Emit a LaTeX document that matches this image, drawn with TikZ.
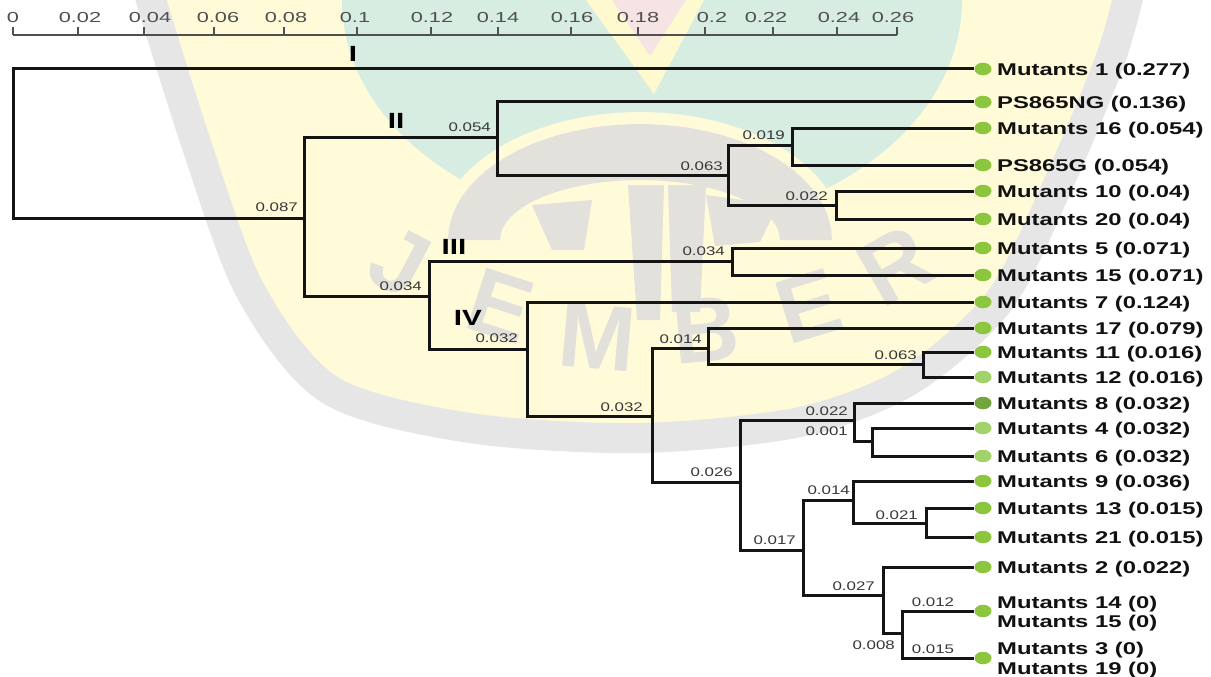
\documentclass[tikz,border=0pt]{standalone}
\usepackage{fontspec}
\setmainfont{Liberation Sans}
\newfontfamily\leaffont[FakeStretch=1.4]{Liberation Sans}
\newfontfamily\brfont[FakeStretch=1.35]{Liberation Sans}
\newfontfamily\axfont[FakeStretch=1.5]{Liberation Sans}
\newfontfamily\romfont[FakeStretch=1.35]{Liberation Sans}
\usetikzlibrary{shapes.geometric}

\definecolor{treeink}{HTML}{141414}
\definecolor{leafink}{HTML}{111111}
\definecolor{brgray}{HTML}{383838}
\definecolor{axgray}{HTML}{505050}
\definecolor{dotgreen}{HTML}{8CC63F}
\definecolor{dotlight}{HTML}{A2D26A}
\definecolor{dotdark}{HTML}{72A63C}
\definecolor{wmyellow}{HTML}{FFFBD9}
\definecolor{wmvee}{HTML}{FFF9D0}
\definecolor{wmteal}{HTML}{D8EDE2}
\definecolor{wmgray}{HTML}{E2E1DC}
\definecolor{wmring}{HTML}{E6E6E6}
\definecolor{wmpink}{HTML}{F6E3E3}
\definecolor{wmletter}{HTML}{E1E0DB}

\begin{document}
\begin{tikzpicture}[x=1pt,y=-1pt,
  branch/.style={draw=treeink, line width=3pt},
  leafdot/.style={ellipse, fill=#1, draw=none, minimum width=17pt, minimum height=12.5pt, inner sep=0pt},
  leafdot/.default=dotgreen,
  leaflabel/.style={anchor=base west, inner sep=0pt, text=leafink,
    font=\leaffont\bfseries\fontsize{17}{19}\selectfont},
  brlabel/.style={anchor=east, inner sep=0pt, text=brgray,
    font=\brfont\fontsize{12.5}{14}\selectfont},
  axlabel/.style={anchor=base, inner sep=0pt, text=axgray,
    font=\axfont\fontsize{14.5}{16}\selectfont},
  romlabel/.style={inner sep=0pt, text=black,
    font=\romfont\bfseries\fontsize{22}{24}\selectfont},
  wmglyph/.style={inner sep=0pt, text=wmletter,
    font=\bfseries\fontsize{92}{100}\selectfont},
  axisline/.style={draw=axgray, line width=1.5pt}]

\useasboundingbox (0,0) rectangle (1211,677);
\fill[white] (0,0) rectangle (1211,677);

% ---------- faded emblem in the background ----------
\begin{scope}
  \clip (0,0) rectangle (1211,677);
  \fill[wmyellow] plot[smooth] coordinates {(148,-10) (195,140) (250,290) (330,390)
      (470,428) (640,438) (800,422) (910,380) (1000,300) (1060,180) (1110,60) (1130,-10)} -- cycle;
  \fill[wmteal] (652,0) ellipse [x radius=310pt, y radius=228pt];
  \fill[wmvee] (586,0) -- (704,0) -- (654,94) -- cycle;
  \fill[wmpink] (612,0) -- (686,0) -- (650,56) -- cycle;
  % arch with rays
  \fill[wmyellow] plot[domain=0:180, samples=40] ({640+204*cos(\x)},{240-128*sin(\x)}) -- cycle;
  \fill[wmgray] plot[domain=0:180, samples=40] ({640+192*cos(\x)},{240-116*sin(\x)})
      -- plot[domain=180:0, samples=40] ({640+140*cos(\x)},{240-60*sin(\x)}) -- cycle;
  \fill[wmgray] (532,205) -- (592,200) -- (584,250) -- (552,250) -- cycle;
  \fill[wmgray] (628,185) -- (664,185) -- (660,320) -- (637,320) -- cycle;
  \fill[wmgray] (668,185) -- (706,185) -- (700,312) -- (672,312) -- cycle;
  \fill[wmgray] (706,195) -- (778,205) -- (760,242) -- (715,246) -- cycle;
  % lettering along the lower arc
  \node[wmglyph, rotate=-28] (wmJ)  at (400,262) {J};
  \node[wmglyph, rotate=-18] (wmE1) at (500,306) {E};
  \node[wmglyph, rotate=-5]  (wmM)  at (597,337) {M};
  \node[wmglyph, rotate=5]   (wmB)  at (706,330) {B};
  \node[wmglyph, rotate=17]  (wmE2) at (809,306) {E};
  \node[wmglyph, rotate=30]  (wmR)  at (895,265) {R};
  % outer ring
  \draw[wmring, line width=30pt] plot[smooth] coordinates {(148,-10) (195,140) (250,290) (330,390)
      (470,428) (640,438) (800,422) (910,380) (1000,300) (1060,180) (1110,60) (1130,-10)};
\end{scope}

% ---------- distance scale ----------
\coordinate (ax0) at (13,35);
\coordinate (ax1) at (897,35);
\draw[axisline] (ax0) -- (ax1);
\foreach \tx in {13,78,144,214,284,357,431,498,571,638,705,773,837,897}
  \draw[axisline] (\tx,35) -- (\tx,27.5);
\foreach \lx/\v in {13/0, 80/0.02, 150/0.04, 218/0.06, 286/0.08, 355/0.1, 432/0.12,
    498/0.14, 572/0.16, 638/0.18, 712/0.2, 766/0.22, 839/0.24, 893/0.26}
  \node[axlabel] at (\lx,22.7) {\v};

% ---------- internal nodes ----------
\coordinate (R)  at (13,143);
\coordinate (nA) at (304,218);
\coordinate (nB) at (497,137);
\coordinate (nC) at (728,175);
\coordinate (nD) at (792,145);
\coordinate (nE) at (836,205);
\coordinate (nF) at (429,296);
\coordinate (nG) at (732,261);
\coordinate (nH) at (527,349);
\coordinate (nK) at (652,416);
\coordinate (nL) at (708,348);
\coordinate (nN) at (923,364);
\coordinate (nP) at (740,482);
\coordinate (nQ) at (854,420);
\coordinate (nS) at (872,441);
\coordinate (nT) at (803,550);
\coordinate (nU) at (853,500);
\coordinate (nV) at (926,523);
\coordinate (nW) at (883,595);
\coordinate (nX) at (902,633);

% ---------- leaves ----------
\node[leafdot] (m1)    at (983,69)  {};
\node[leafdot] (ng)    at (983,102) {};
\node[leafdot] (m16)   at (983,128) {};
\node[leafdot] (g)     at (983,165) {};
\node[leafdot] (m10)   at (983,191) {};
\node[leafdot] (m20)   at (983,219) {};
\node[leafdot] (m5)    at (983,248) {};
\node[leafdot] (m15)   at (983,275) {};
\node[leafdot] (m7)    at (983,302) {};
\node[leafdot] (m17)   at (983,328) {};
\node[leafdot] (m11)   at (983,352) {};
\node[leafdot=dotlight] (m12) at (983,377) {};
\node[leafdot=dotdark]  (m8)  at (983,403) {};
\node[leafdot=dotlight] (m4)  at (983,428) {};
\node[leafdot=dotlight] (m6)  at (983,456) {};
\node[leafdot] (m9)    at (983,481) {};
\node[leafdot] (m13)   at (983,508) {};
\node[leafdot] (m21)   at (983,537) {};
\node[leafdot] (m2)    at (983,567) {};
\node[leafdot] (m1415) at (983,611) {};
\node[leafdot] (m319)  at (983,658) {};

% ---------- branches ----------
\draw[branch] (R)  |- (m1);   \draw[branch] (R)  |- (nA);
\draw[branch] (nA) |- (nB);   \draw[branch] (nA) |- (nF);
\draw[branch] (nB) |- (ng);   \draw[branch] (nB) |- (nC);
\draw[branch] (nC) |- (nD);   \draw[branch] (nC) |- (nE);
\draw[branch] (nD) |- (m16);  \draw[branch] (nD) |- (g);
\draw[branch] (nE) |- (m10);  \draw[branch] (nE) |- (m20);
\draw[branch] (nF) |- (nG);   \draw[branch] (nF) |- (nH);
\draw[branch] (nG) |- (m5);   \draw[branch] (nG) |- (m15);
\draw[branch] (nH) |- (m7);   \draw[branch] (nH) |- (nK);
\draw[branch] (nK) |- (nL);   \draw[branch] (nK) |- (nP);
\draw[branch] (nL) |- (m17);  \draw[branch] (nL) |- (nN);
\draw[branch] (nN) |- (m11);  \draw[branch] (nN) |- (m12);
\draw[branch] (nP) |- (nQ);   \draw[branch] (nP) |- (nT);
\draw[branch] (nQ) |- (m8);   \draw[branch] (nQ) |- (nS);
\draw[branch] (nS) |- (m4);   \draw[branch] (nS) |- (m6);
\draw[branch] (nT) |- (nU);   \draw[branch] (nT) |- (nW);
\draw[branch] (nU) |- (m9);   \draw[branch] (nU) |- (nV);
\draw[branch] (nV) |- (m13);  \draw[branch] (nV) |- (m21);
\draw[branch] (nW) |- (m2);   \draw[branch] (nW) |- (nX);
\draw[branch] (nX) |- (m1415);\draw[branch] (nX) |- (m319);

% ---------- leaf names ----------
\node[leaflabel] (t1)  at (997,75.5)  {Mutants 1 (0.277)};
\node[leaflabel] (tng) at (997,108.5) {PS865NG (0.136)};
\node[leaflabel] (t16) at (997,134.5) {Mutants 16 (0.054)};
\node[leaflabel] (tg)  at (997,171.5) {PS865G (0.054)};
\node[leaflabel] (t10) at (997,197.5) {Mutants 10 (0.04)};
\node[leaflabel] (t20) at (997,225.5) {Mutants 20 (0.04)};
\node[leaflabel] (t5)  at (997,254.5) {Mutants 5 (0.071)};
\node[leaflabel] (t15) at (997,281.5) {Mutants 15 (0.071)};
\node[leaflabel] (t7)  at (997,308.5) {Mutants 7 (0.124)};
\node[leaflabel] (t17) at (997,334.5) {Mutants 17 (0.079)};
\node[leaflabel] (t11) at (997,358.5) {Mutants 11 (0.016)};
\node[leaflabel] (t12) at (997,383.5) {Mutants 12 (0.016)};
\node[leaflabel] (t8)  at (997,409.5) {Mutants 8 (0.032)};
\node[leaflabel] (t4)  at (997,434.5) {Mutants 4 (0.032)};
\node[leaflabel] (t6)  at (997,462.5) {Mutants 6 (0.032)};
\node[leaflabel] (t9)  at (997,487.5) {Mutants 9 (0.036)};
\node[leaflabel] (t13) at (997,514.5) {Mutants 13 (0.015)};
\node[leaflabel] (t21) at (997,543.5) {Mutants 21 (0.015)};
\node[leaflabel] (t2)  at (997,573.5) {Mutants 2 (0.022)};
\node[leaflabel] (t14) at (997,608)   {Mutants 14 (0)};
\node[leaflabel] (t15b) at (997,627.5) {Mutants 15 (0)};
\node[leaflabel] (t3)  at (997,654.5) {Mutants 3 (0)};
\node[leaflabel] (t19) at (997,674)   {Mutants 19 (0)};

% ---------- branch lengths ----------
\node[brlabel] (dA) at (298,207) {0.087};
\node[brlabel] (dB) at (491,127) {0.054};
\node[brlabel] (dC) at (723,166) {0.063};
\node[brlabel] (dD) at (785,135) {0.019};
\node[brlabel] (dE) at (828,196) {0.022};
\node[brlabel] (dF) at (422,286) {0.034};
\node[brlabel] (dG) at (725,251) {0.034};
\node[brlabel] (dH) at (518,338) {0.032};
\node[brlabel] (dK) at (643,407) {0.032};
\node[brlabel] (dL) at (702,339) {0.014};
\node[brlabel] (dN) at (917,355) {0.063};
\node[brlabel] (dP) at (733,472) {0.026};
\node[brlabel] (dQ) at (848,411) {0.022};
\node[brlabel] (dS) at (848,431) {0.001};
\node[brlabel] (dT) at (796,540) {0.017};
\node[brlabel] (dU) at (850,490) {0.014};
\node[brlabel] (dV) at (918,515) {0.021};
\node[brlabel] (dW) at (875,586) {0.027};
\node[brlabel] (dX) at (895,645) {0.008};
\node[brlabel, anchor=center] (d12) at (933,602) {0.012};
\node[brlabel, anchor=center] (d15) at (933,649) {0.015};

% ---------- cluster numerals ----------
\node[romlabel] (c1) at (353,54)  {I};
\node[romlabel] (c2) at (396,121) {II};
\node[romlabel] (c3) at (454,247) {III};
\node[romlabel] (c4) at (468,318) {IV};
\end{tikzpicture}
\end{document}
